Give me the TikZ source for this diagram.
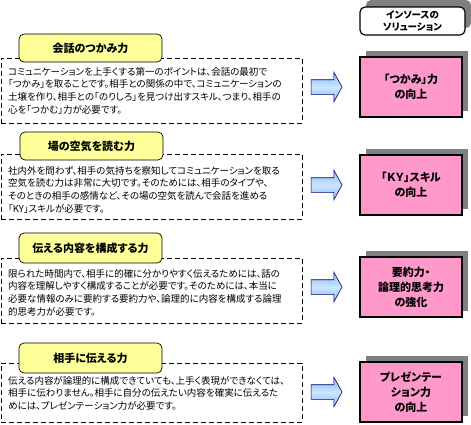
\documentclass[tikz,border=0pt]{standalone}
\usepackage{fontspec}
\setmainfont{Noto Sans CJK JP}[RawFeature=+palt]
\usepackage{tikz}
\usetikzlibrary{shapes,arrows,positioning,shadows}
\definecolor{tabyellow}{RGB}{255,255,153}
\definecolor{solpink}{RGB}{255,153,204}
\definecolor{shadowgray}{RGB}{128,128,128}
\definecolor{arrowblue}{RGB}{130,185,245}
\definecolor{arrowlight}{RGB}{205,230,255}

\begin{document}
\begin{tikzpicture}[x=1pt, y=-1pt,
    descbox/.style={draw, dashed, line width=0.8pt, dash pattern=on 5pt off 3pt, minimum width=301pt},
    desctext/.style={anchor=north west, inner sep=0pt, align=left, font=\fontsize{9.5}{12.7}\selectfont},
    tabbox/.style={draw, line width=0.7pt, fill=tabyellow, rounded corners=5pt, minimum width=143pt, font=\fontsize{11}{13}\selectfont\bfseries},
    solbox/.style={draw, line width=1.2pt, fill=solpink, minimum width=102pt, minimum height=60pt, align=center,
        font=\fontsize{11}{15}\selectfont\bfseries,
        drop shadow={shadow xshift=6pt, shadow yshift=6pt, fill=shadowgray, opacity=1}},
    bigarrow/.style={single arrow, draw=black!60!blue, line width=0.6pt, minimum height=31pt,
        inner xsep=0pt, inner ysep=7pt, single arrow head extend=7.5pt, single arrow tip angle=122,
        top color=arrowblue, bottom color=arrowblue, middle color=arrowlight}]
    \useasboundingbox (0,0) rectangle (471,424);

    % Header
    \node[draw, line width=1.2pt, fill=white, rounded corners=5pt, minimum width=105pt, minimum height=28pt,
        align=center, font=\fontsize{9.5}{11.5}\selectfont\bfseries,
        drop shadow={shadow xshift=6pt, shadow yshift=7pt, fill=shadowgray, opacity=1}]
        (insource) at (412.5, 21) {インソースの\\ソリューション};

    % Row 1 - grab
    \node[descbox, minimum height=65pt] (grabbox) at (151.5, 90.5) {};
    \node[tabbox, minimum height=28pt] (grabtab) at (90.5, 48) {会話のつかみ力};
    \node[desctext] (grabtext) at (8, 67) {コミュニケーションを上手くする第一のポイントは、会話の最初で\\
        「つかみ」を取ることです。相手との関係の中で、コミュニケーションの\\
        土壌を作り、相手との「のりしろ」を見つけ出すスキル、つまり、相手の\\
        心を「つかむ」力が必要です。};
    \node[solbox] (grabsol) at (411, 87) {「つかみ」力\\の向上};

    % Row 2 - air
    \node[descbox, minimum height=65pt] (airbox) at (151.5, 186.5) {};
    \node[tabbox, minimum height=28pt] (airtab) at (91.5, 146) {場の空気を読む力};
    \node[desctext] (airtext) at (8, 166) {社内外を問わず、相手の気持ちを察知してコミュニケーションを取る\\
        空気を読む力は非常に大切です。そのためには、相手のタイプや、\\
        そのときの相手の感情など、その場の空気を読んで会話を進める\\
        「KY」スキルが必要です。};
    \node[solbox] (airsol) at (411, 185) {「ＫＹ」スキル\\の向上};

    % Row 3 - structure
    \node[descbox, minimum height=65pt] (structbox) at (151.5, 290.5) {};
    \node[tabbox, minimum height=30pt] (structtab) at (90.5, 248) {伝える内容を構成する力};
    \node[desctext] (structtext) at (8, 269) {限られた時間内で、相手に的確に分かりやすく伝えるためには、話の\\
        内容を理解しやすく構成することが必要です。そのためには、本当に\\
        必要な情報のみに要約する要約力や、論理的に内容を構成する論理\\
        的思考力が必要です。};
    \node[solbox] (structsol) at (411, 287) {要約力・\\論理的思考力\\の強化};

    % Row 4 - presentation
    \node[descbox, minimum height=59pt] (presbox) at (151.5, 392.5) {};
    \node[tabbox, minimum height=30pt] (prestab) at (90.5, 358) {相手に伝える力};
    \node[desctext] (prestext) at (8, 376) {伝える内容が論理的に構成できていても、上手く表現ができなくては、\\
        相手に伝わりません。相手に自分の伝えたい内容を確実に伝えるた\\
        めには、プレゼンテーション力が必要です。};
    \node[solbox] (pressol) at (411, 392) {プレゼンテー\\ション力\\の向上};

    % Arrows
    \node[bigarrow, left=17pt of grabsol] (grabarrow) {};
    \node[bigarrow, left=17pt of airsol] (airarrow) {};
    \node[bigarrow, left=17pt of structsol] (structarrow) {};
    \node[bigarrow, left=17pt of pressol] (presarrow) {};
\end{tikzpicture}
\end{document}
